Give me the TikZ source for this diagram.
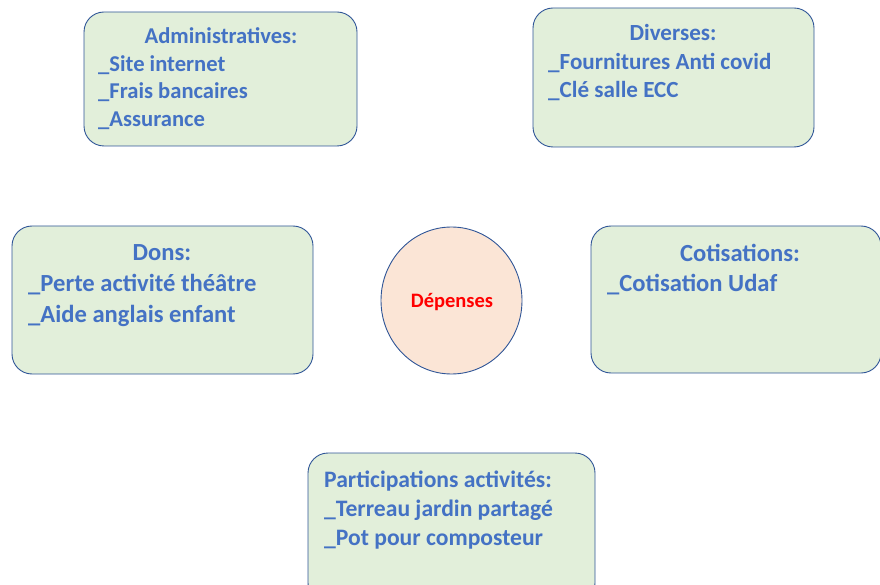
\documentclass[tikz,border=0pt]{standalone}
\usepackage{fontspec}
\setmainfont{Carlito}
\usetikzlibrary{shapes.geometric}
\definecolor{txtblue}{HTML}{4472C4}
\definecolor{boxfill}{HTML}{E2EFDA}
\definecolor{boxline}{HTML}{2F5597}
\definecolor{circfill}{HTML}{FBE5D6}
\definecolor{redtxt}{HTML}{FF0000}
\begin{document}
\begin{tikzpicture}[x=1pt,y=-1pt,
  box/.style={draw=boxline, fill=boxfill, line width=0.9pt, rounded corners=20pt, inner sep=0pt},
  txt/.style={inner sep=0pt, text=txtblue},
  fa/.style={font=\bfseries\fontsize{22.6}{22.6}\selectfont},
  fb/.style={font=\bfseries\fontsize{24.6}{24.6}\selectfont},
  fc/.style={font=\bfseries\fontsize{23.6}{23.6}\selectfont},
  fd/.style={font=\bfseries\fontsize{23.1}{23.1}\selectfont}]
\useasboundingbox (0,0) rectangle (880,585);
\clip (0,0) rectangle (880,585);
% boxes
\node[box, minimum width=273pt, minimum height=134pt] (admin) at (220.5,79) {};
\node[box, minimum width=281pt, minimum height=139pt] (div) at (673.5,77.5) {};
\node[box, minimum width=301pt, minimum height=148pt] (dons) at (162.5,300) {};
\node[box, minimum width=290pt, minimum height=147pt] (cot) at (736,299.5) {};
\node[box, minimum width=287pt, minimum height=150pt] (part) at (451.5,528) {};
\node[draw=boxline, fill=circfill, line width=0.9pt, ellipse, inner sep=0pt,
  minimum width=141pt, minimum height=147pt] (dep) at (451.5,300.5) {};
% texts
\node[txt, fa, anchor=base] (admint) at (221,44) {Administratives:};
\node[txt, fa, anchor=base west] (admin1) at (98,71.5) {\_Site internet};
\node[txt, fa, anchor=base west] (admin2) at (98,99) {\_Frais bancaires};
\node[txt, fa, anchor=base west] (admin3) at (98,126.5) {\_Assurance};
\node[txt, fd, anchor=base] (divt) at (673,41) {Diverses:};
\node[txt, fd, anchor=base west] (div1) at (548,69.3) {\_Fournitures Anti covid};
\node[txt, fd, anchor=base west] (div2) at (548,97.6) {\_Clé salle ECC};
\node[txt, fb, anchor=base] (donst) at (162,261) {Dons:};
\node[txt, fb, anchor=base west] (dons1) at (28,291.5) {\_Perte activité théâtre};
\node[txt, fb, anchor=base west] (dons2) at (28,322) {\_Aide anglais enfant};
\node[txt, fb, anchor=base] (cott) at (740,261.5) {Cotisations:};
\node[txt, fb, anchor=base west] (cot1) at (607,291) {\_Cotisation Udaf};
\node[txt, fc, anchor=base west] (partt) at (324,487) {Participations activités:};
\node[txt, fc, anchor=base west] (part1) at (324,516) {\_Terreau jardin partagé};
\node[txt, fc, anchor=base west] (part2) at (324,545) {\_Pot pour composteur};
\node[inner sep=0pt, text=redtxt, font=\bfseries\fontsize{20.5}{20.5}\selectfont, anchor=base] (dept) at (452,307.5) {Dépenses};
\end{tikzpicture}
\end{document}
